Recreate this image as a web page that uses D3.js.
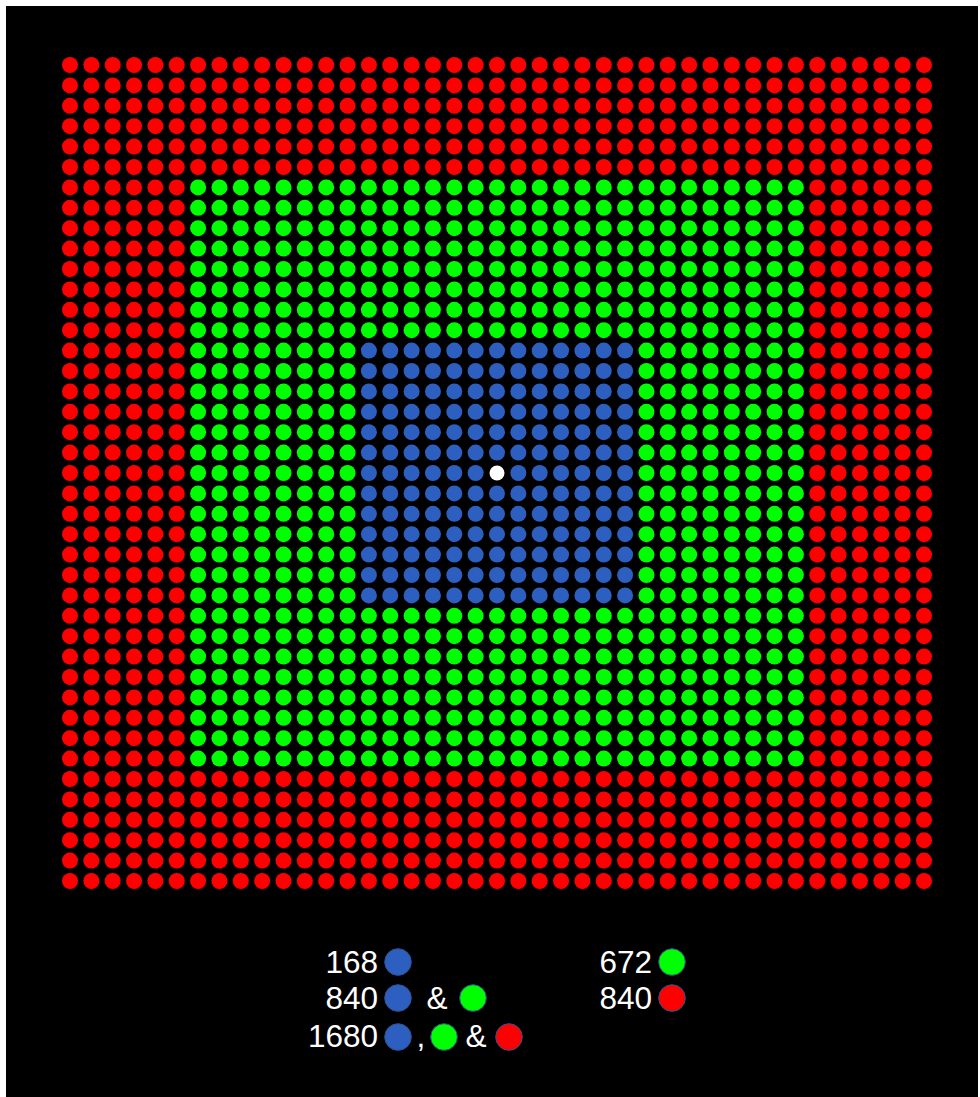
<!DOCTYPE html>
<html>
<head>
<meta charset="utf-8">
<script src="https://cdn.jsdelivr.net/npm/d3@7"></script>
<style>
  html, body { margin: 0; padding: 0; background: #ffffff; }
  svg { display: block; }
</style>
</head>
<body>
<script>
// ---- data ----
const groupNames  = ["center", "blue", "green", "red"];
const groupCounts = [1, 168, 672, 840];
const groupColors = ["#ffffff", "#2d5fc0", "#00ff00", "#ff0000"];
const legendTotals = [168, 840, 1680, 672, 840];

// ---- layout ----
const W = 980, H = 1097;
const svg = d3.select("body").append("svg").attr("width", W).attr("height", H);
svg.append("rect").attr("x", 6).attr("y", 6).attr("width", 972).attr("height", H - 6).attr("fill", "#000");

// cumulative counts -> square half-widths
let cum = 0;
const halfWidths = groupCounts.map(c => { cum += c; return (Math.sqrt(cum) - 1) / 2; });
const n = 2 * halfWidths[halfWidths.length - 1] + 1; // 41

const x = d3.scaleLinear().domain([0, n - 1]).range([70, 924]);
const y = d3.scaleLinear().domain([0, n - 1]).range([65, 881]);
const c0 = (n - 1) / 2;

const cells = [];
for (let r = 0; r < n; r++) {
  for (let c = 0; c < n; c++) {
    const d = Math.max(Math.abs(r - c0), Math.abs(c - c0));
    const g = halfWidths.findIndex(h => d <= h);
    cells.push({ r, c, g });
  }
}
const color = d3.scaleOrdinal().domain(d3.range(groupNames.length)).range(groupColors);

svg.append("g").selectAll("circle").data(cells).join("circle")
  .attr("cx", d => x(d.c)).attr("cy", d => y(d.r))
  .attr("r", d => d.g === 0 ? 7.5 : 8)
  .attr("fill", d => color(d.g));

// ---- legend ----
const lg = svg.append("g").attr("font-family", "Liberation Sans, Arial, sans-serif")
  .attr("font-size", 31.5).attr("fill", "#fff");
const txt = (s, tx, ty, anchor) => lg.append("text").attr("x", tx).attr("y", ty)
  .attr("text-anchor", anchor || "end").attr("fill", "#fff").text(s);
const dot = (g, cx, cy) => lg.append("circle").attr("cx", cx).attr("cy", cy).attr("r", 13.3)
  .attr("fill", color(g)).attr("stroke", "#2f528f").attr("stroke-width", 1);

txt(legendTotals[0], 378, 973); dot(1, 398, 962);
txt(legendTotals[1], 378, 1009); dot(1, 398, 998); txt("&", 437, 1009, "middle"); dot(2, 473, 998);
txt(legendTotals[2], 378, 1047); dot(1, 398, 1037); txt(",", 421, 1047, "middle"); dot(2, 444, 1037);
txt("&", 476, 1047, "middle"); dot(3, 509, 1037);
txt(legendTotals[3], 652, 973); dot(2, 672, 962);
txt(legendTotals[4], 652, 1009); dot(3, 672, 998);
</script>
</body>
</html>
